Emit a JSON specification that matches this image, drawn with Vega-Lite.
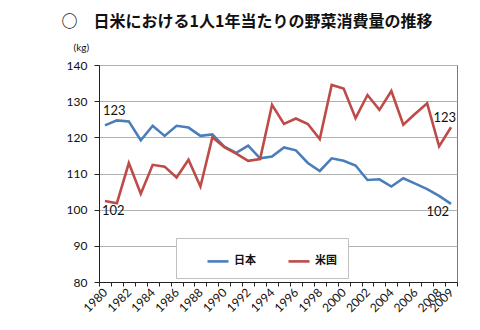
{
  "$schema": "https://vega.github.io/schema/vega-lite/v6.json",
  "width": 358,
  "height": 217,
  "autosize": "none",
  "padding": {"left": 99, "top": 65, "right": 23, "bottom": 48},
  "background": "white",
  "title": {
    "text": "○　日米における1人1年当たりの野菜消費量の推移",
    "font": "Noto Sans CJK JP",
    "fontSize": 16,
    "fontWeight": "bold",
    "color": "#111111",
    "anchor": "middle",
    "dx": -31,
    "offset": 12
  },
  "config": {
    "view": {"stroke": "#7a7a7a", "strokeWidth": 1},
    "axis": {"labelFont": "Lato", "labelFontSize": 12, "labelColor": "#111111", "titleFont": "Lato", "titleColor": "#111111"}
  },
  "data": {
    "values": [
      {"year": 1980, "country": "日本", "value": 123.3},
      {"year": 1981, "country": "日本", "value": 124.7},
      {"year": 1982, "country": "日本", "value": 124.4},
      {"year": 1983, "country": "日本", "value": 119.2},
      {"year": 1984, "country": "日本", "value": 123.2},
      {"year": 1985, "country": "日本", "value": 120.4},
      {"year": 1986, "country": "日本", "value": 123.2},
      {"year": 1987, "country": "日本", "value": 122.7},
      {"year": 1988, "country": "日本", "value": 120.4},
      {"year": 1989, "country": "日本", "value": 120.8},
      {"year": 1990, "country": "日本", "value": 117.4},
      {"year": 1991, "country": "日本", "value": 115.7},
      {"year": 1992, "country": "日本", "value": 117.7},
      {"year": 1993, "country": "日本", "value": 114.2},
      {"year": 1994, "country": "日本", "value": 114.7},
      {"year": 1995, "country": "日本", "value": 117.2},
      {"year": 1996, "country": "日本", "value": 116.4},
      {"year": 1997, "country": "日本", "value": 112.9},
      {"year": 1998, "country": "日本", "value": 110.7},
      {"year": 1999, "country": "日本", "value": 114.2},
      {"year": 2000, "country": "日本", "value": 113.5},
      {"year": 2001, "country": "日本", "value": 112.2},
      {"year": 2002, "country": "日本", "value": 108.2},
      {"year": 2003, "country": "日本", "value": 108.4},
      {"year": 2004, "country": "日本", "value": 106.4},
      {"year": 2005, "country": "日本", "value": 108.7},
      {"year": 2006, "country": "日本", "value": 107.2},
      {"year": 2007, "country": "日本", "value": 105.7},
      {"year": 2008, "country": "日本", "value": 103.8},
      {"year": 2009, "country": "日本", "value": 101.6},
      {"year": 1980, "country": "米国", "value": 102.4},
      {"year": 1981, "country": "米国", "value": 101.8},
      {"year": 1982, "country": "米国", "value": 112.9},
      {"year": 1983, "country": "米国", "value": 104.4},
      {"year": 1984, "country": "米国", "value": 112.4},
      {"year": 1985, "country": "米国", "value": 111.9},
      {"year": 1986, "country": "米国", "value": 108.9},
      {"year": 1987, "country": "米国", "value": 113.8},
      {"year": 1988, "country": "米国", "value": 106.4},
      {"year": 1989, "country": "米国", "value": 120.0},
      {"year": 1990, "country": "米国", "value": 117.3},
      {"year": 1991, "country": "米国", "value": 115.5},
      {"year": 1992, "country": "米国", "value": 113.5},
      {"year": 1993, "country": "米国", "value": 114.0},
      {"year": 1994, "country": "米国", "value": 129.0},
      {"year": 1995, "country": "米国", "value": 123.7},
      {"year": 1996, "country": "米国", "value": 125.2},
      {"year": 1997, "country": "米国", "value": 123.7},
      {"year": 1998, "country": "米国", "value": 119.5},
      {"year": 1999, "country": "米国", "value": 134.5},
      {"year": 2000, "country": "米国", "value": 133.5},
      {"year": 2001, "country": "米国", "value": 125.3},
      {"year": 2002, "country": "米国", "value": 131.7},
      {"year": 2003, "country": "米国", "value": 127.6},
      {"year": 2004, "country": "米国", "value": 132.8},
      {"year": 2005, "country": "米国", "value": 123.5},
      {"year": 2006, "country": "米国", "value": 126.5},
      {"year": 2007, "country": "米国", "value": 129.4},
      {"year": 2008, "country": "米国", "value": 117.5},
      {"year": 2009, "country": "米国", "value": 122.8}
    ]
  },
  "encoding": {
    "x": {
      "field": "year",
      "type": "ordinal",
      "scale": {"type": "band", "paddingInner": 0, "paddingOuter": 0},
      "axis": {
        "title": null,
        "labelExpr": "datum.value % 2 == 0 || datum.value == 2009 ? datum.label : ''",
        "labelAngle": -45,
        "labelAlign": "right",
        "labelBaseline": "middle",
        "labelPadding": 4,
        "tickBand": "extent",
        "tickSize": 4,
        "tickColor": "#222222",
        "domainColor": "#222222",
        "labelOverlap": false,
        "grid": false
      }
    },
    "y": {
      "field": "value",
      "type": "quantitative",
      "scale": {"domain": [80, 140], "nice": false, "zero": false},
      "axis": {
        "values": [80, 90, 100, 110, 120, 130, 140],
        "title": "(kg)",
        "titleAngle": 0,
        "titleFontSize": 10,
        "titleFontWeight": "normal",
        "titleAlign": "left",
        "titleBaseline": "middle",
        "titleX": -26,
        "titleY": -18,
        "tickSize": 5,
        "labelPadding": 7,
        "tickColor": "#222222",
        "domainColor": "#222222",
        "gridColor": "#b0b0b0",
        "gridWidth": 1
      }
    }
  },
  "layer": [
    {
      "mark": {"type": "line", "strokeWidth": 2.6},
      "encoding": {
        "color": {
          "field": "country",
          "type": "nominal",
          "scale": {"domain": ["日本", "米国"], "range": ["#4A7EBB", "#BE4B48"]},
          "legend": {
            "title": null,
            "orient": "none",
            "legendX": 77,
            "legendY": 173,
            "direction": "horizontal",
            "fillColor": "white",
            "strokeColor": "#c0c0c0",
            "padding": 11,
            "symbolType": "stroke",
            "symbolSize": 441,
            "symbolStrokeWidth": 2.6,
            "symbolOffset": 19,
            "labelOffset": 4,
            "columnPadding": 12,
            "labelFont": "Noto Sans CJK JP",
            "labelFontSize": 11,
            "labelFontWeight": "bold",
            "labelColor": "#111111"
          }
        }
      }
    },
    {
      "transform": [{"filter": "datum.country == '日本' && datum.year == 1980"}],
      "mark": {"type": "text", "align": "left", "baseline": "middle", "dx": -2, "dy": -14, "font": "Lato", "fontSize": 13, "color": "#111111"},
      "encoding": {"text": {"field": "value", "type": "quantitative", "format": ".0f"}}
    },
    {
      "transform": [{"filter": "datum.country == '米国' && datum.year == 1980"}],
      "mark": {"type": "text", "align": "left", "baseline": "middle", "dx": -3, "dy": 10, "font": "Lato", "fontSize": 13, "color": "#111111"},
      "encoding": {"text": {"field": "value", "type": "quantitative", "format": ".0f"}}
    },
    {
      "transform": [{"filter": "datum.country == '日本' && datum.year == 2009"}],
      "mark": {"type": "text", "align": "right", "baseline": "middle", "dx": -2, "dy": 8, "font": "Lato", "fontSize": 13, "color": "#111111"},
      "encoding": {"text": {"field": "value", "type": "quantitative", "format": ".0f"}}
    },
    {
      "transform": [{"filter": "datum.country == '米国' && datum.year == 2009"}],
      "mark": {"type": "text", "align": "right", "baseline": "middle", "dx": 5, "dy": -9, "font": "Lato", "fontSize": 13, "color": "#111111"},
      "encoding": {"text": {"field": "value", "type": "quantitative", "format": ".0f"}}
    }
  ]
}
